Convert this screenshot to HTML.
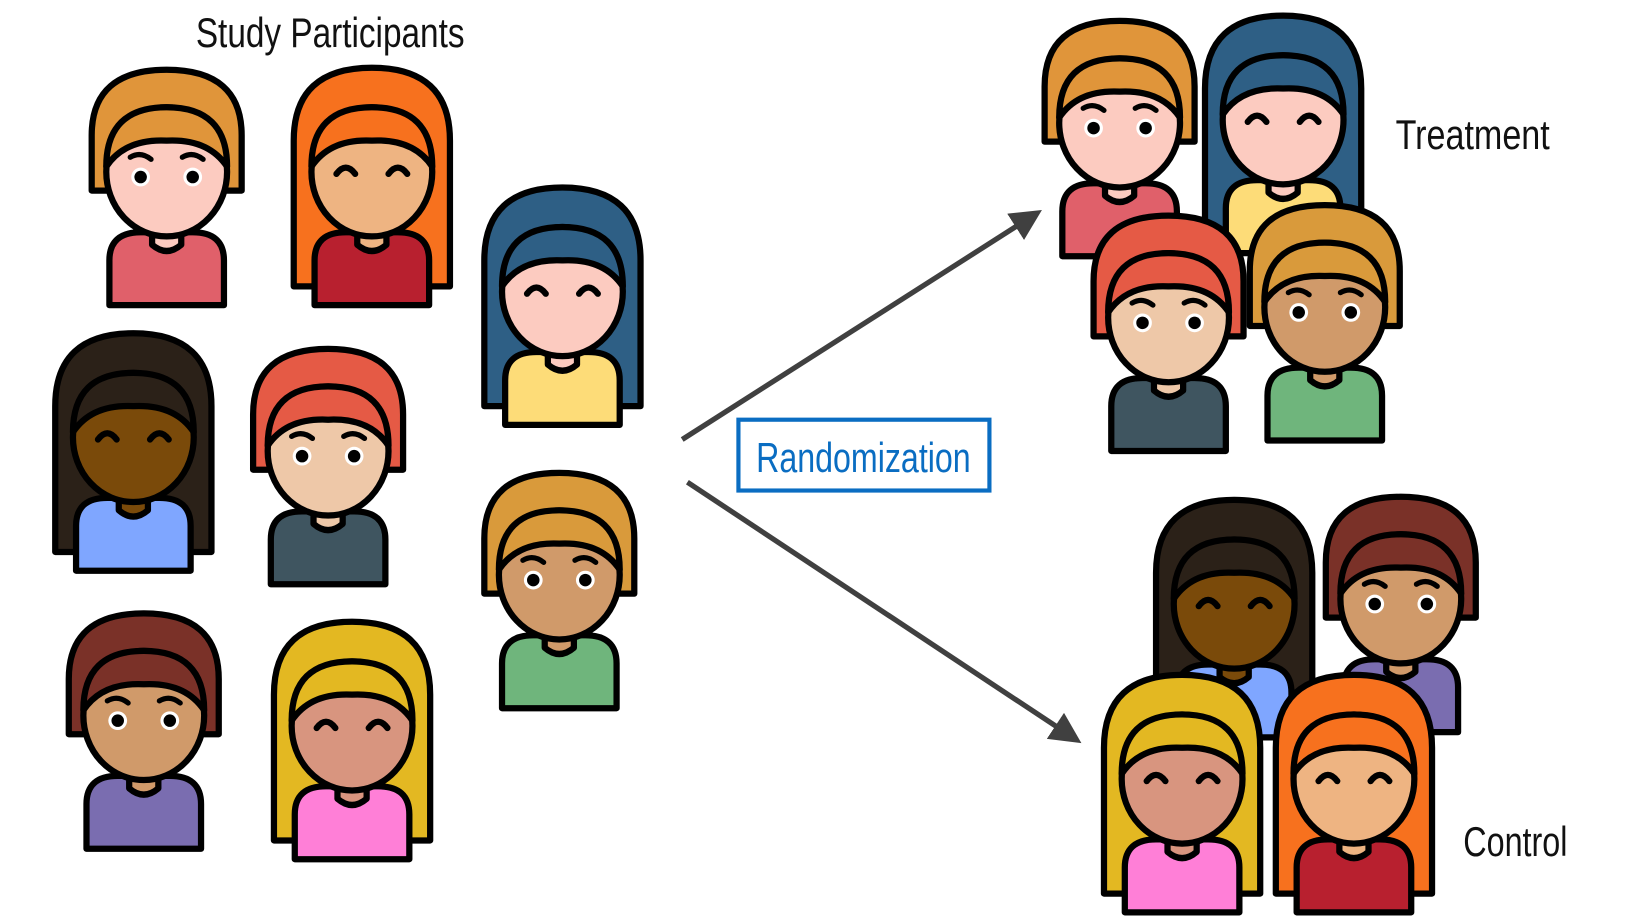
<!DOCTYPE html>
<html><head><meta charset="utf-8"><style>
html,body{margin:0;padding:0;background:#fff;width:1631px;height:917px;overflow:hidden}
svg{display:block}
text{font-family:"Liberation Sans",sans-serif}
</style></head><body>
<svg id="s" width="1631" height="917" viewBox="0 0 1566 880.5" xmlns="http://www.w3.org/2000/svg">
<defs>
<marker id="ah" markerWidth="6" markerHeight="6" refX="4" refY="3" orient="auto" markerUnits="strokeWidth"><path d="M0,0 L6,3 L0,6 Z" fill="#404040"/></marker>
</defs>
<g id="people"></g>
<line x1="655" y1="422" x2="992" y2="207" stroke="#404040" stroke-width="5" marker-end="url(#ah)"/>
<line x1="660" y1="463" x2="1030" y2="708" stroke="#404040" stroke-width="5" marker-end="url(#ah)"/>
<rect x="709" y="403" width="241" height="68" fill="#fff" stroke="#0A6DC2" stroke-width="4"/>
<text x="829" y="453" text-anchor="middle" font-size="40" fill="#0A6DC2" textLength="206" lengthAdjust="spacingAndGlyphs">Randomization</text>
<text x="317" y="45" text-anchor="middle" font-size="40" fill="#111" textLength="258" lengthAdjust="spacingAndGlyphs">Study Participants</text>
<text x="1340" y="143" font-size="40" fill="#111" textLength="148" lengthAdjust="spacingAndGlyphs">Treatment</text>
<text x="1405" y="822" font-size="40" fill="#111" textLength="100" lengthAdjust="spacingAndGlyphs">Control</text>
</svg>
<script>
const NS="http://www.w3.org/2000/svg";
const people=[
 [160,65,'#E0953A',0,'#FCCBC0','#E0606A',1],
 [357,65,'#F7711E',1,'#EEB482','#B8202F',0],
 [540,180,'#2E5F85',1,'#FCCBC0','#FDDC78',0],
 [128,320,'#2B2118',1,'#7A4A0A','#7FA6FF',0],
 [315,333,'#E55A45',0,'#EEC8A8','#3F5560',1],
 [537,452,'#D99A3B',0,'#D09A6A','#6FB57C',1],
 [138,587,'#7A3128',0,'#D09A6A','#7A6DB0',1],
 [338,597,'#E3B822',1,'#D8957F','#FF7FD7',0],
 [1075,18,'#E0953A',0,'#FCCBC0','#E0606A',1],
 [1232,15,'#2E5F85',1,'#FCCBC0','#FDDC78',0],
 [1122,205,'#E55A45',0,'#EEC8A8','#3F5560',1],
 [1272,195,'#D99A3B',0,'#D09A6A','#6FB57C',1],
 [1185,480,'#2B2118',1,'#7A4A0A','#7FA6FF',0],
 [1345,475,'#7A3128',0,'#D09A6A','#7A6DB0',1],
 [1135,648,'#E3B822',1,'#D8957F','#FF7FD7',0],
 [1300,648,'#F7711E',1,'#EEB482','#B8202F',0]
];
const root=document.getElementById('people');
function add(g,tag,attrs){const e=document.createElementNS(NS,tag);for(const k in attrs)e.setAttribute(k,attrs[k]);g.appendChild(e);return e;}
people.forEach((p,i)=>{
 const [x,y,hair,long,skin,shirt,open]=p;
 const g=document.createElementNS(NS,'g');
 
 
 g.setAttribute('transform',`translate(${x},${y})`);
 root.appendChild(g);
 const st={stroke:'#000','stroke-width':6,'stroke-linejoin':'round','stroke-linecap':'round'};
 if(long){add(g,'path',Object.assign({d:'M-75,210 L-75,70 Q-75,0 0,0 Q75,0 75,70 L75,210 Z',fill:hair},st));}
 else{add(g,'path',Object.assign({d:'M-72,118 L-72,65 Q-72,2 0,2 Q72,2 72,65 L72,118 Z',fill:hair},st));}
 add(g,'path',Object.assign({d:'M-55,228 L-55,185 Q-55,158 -25,158 L25,158 Q55,158 55,185 L55,228 Z',fill:shirt},st));
 add(g,'path',Object.assign({d:'M-14,150 L-14,170 Q0,182 14,170 L14,150 Z',fill:skin},st));
 add(g,'ellipse',Object.assign({cx:0,cy:100,rx:58,ry:62,fill:skin},st));
 add(g,'path',Object.assign({d:'M-58,95 Q-58,38 0,38 Q58,38 58,95 Q40,68 0,70 Q-40,68 -58,95 Z',fill:hair},st));
 if(open){
  [-25,25].forEach(ex=>{
   add(g,'circle',{cx:ex,cy:105,r:9,fill:'#fff'});
   add(g,'circle',{cx:ex,cy:105,r:6,fill:'#000'});
   add(g,'path',{d:`M${ex-10},${86} Q${ex},${80} ${ex+10},${88}`,fill:'none',stroke:'#000','stroke-width':5,'stroke-linecap':'round'});
  });
 } else {
  [-25,25].forEach(ex=>{
   add(g,'path',{d:`M${ex-9},${102} Q${ex},${90} ${ex+9},${102}`,fill:'none',stroke:'#000','stroke-width':6,'stroke-linecap':'round'});
  });
 }
});
</script>
</body></html>
